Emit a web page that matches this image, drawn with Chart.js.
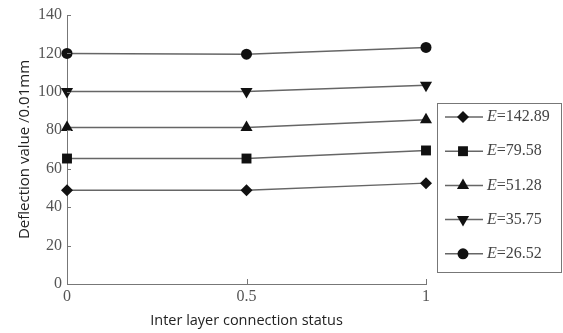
<!DOCTYPE html>
<html>
<head>
<meta charset="utf-8">
<script src="https://cdn.jsdelivr.net/npm/chart.js@4"></script>
<style>
  html, body { margin: 0; padding: 0; background: #fff; }
  #wrap { width: 563px; height: 333px; }
</style>
</head>
<body>
<div id="wrap"><canvas id="chart"></canvas></div>
<script>
const xValues = [0, 0.5, 1];
const seriesLabels = ['142.89', '79.58', '51.28', '35.75', '26.52'];
const e142 = [48.8, 48.8, 52.5];
const e79 = [65.3, 65.3, 69.5];
const e51 = [81.5, 81.5, 85.5];
const e35 = [100.2, 100.2, 103.5];
const e26 = [120, 119.6, 123.1];
const yTicks = [0, 20, 40, 60, 80, 100, 120, 140];
const xTicks = [0, 0.5, 1];

const markers = [
  { style: 'rectRot', radius: 6, rotation: 0 },
  { style: 'rect', radius: 7, rotation: 0 },
  { style: 'triangle', radius: 7, rotation: 0 },
  { style: 'triangle', radius: 7, rotation: 180 },
  { style: 'circle', radius: 5.5, rotation: 0 }
];
const seriesData = [e142, e79, e51, e35, e26];

const datasets = seriesData.map((vals, i) => ({
  label: 'E=' + seriesLabels[i],
  data: vals.map((v, j) => ({ x: xValues[j], y: v })),
  borderColor: '#666',
  borderWidth: 1.5,
  backgroundColor: '#111',
  pointBackgroundColor: '#111',
  pointBorderColor: '#111',
  pointBorderWidth: 0,
  pointStyle: markers[i].style,
  pointRadius: markers[i].radius,
  pointRotation: markers[i].rotation,
  tension: 0,
  clip: false
}));

// inward tick marks, like the printed figure
const innerTicks = {
  id: 'innerTicks',
  afterDraw(chart) {
    const ctx = chart.ctx;
    const xs = chart.scales.x, ys = chart.scales.y;
    const area = chart.chartArea;
    ctx.save();
    ctx.strokeStyle = '#777';
    ctx.lineWidth = 1;
    ctx.beginPath();
    yTicks.forEach(v => {
      if (v === 0) return;
      const y = Math.round(ys.getPixelForValue(v)) + 0.5;
      ctx.moveTo(area.left, y);
      ctx.lineTo(area.left + 4, y);
    });
    xTicks.forEach(v => {
      if (v === 0) return;
      const x = Math.round(xs.getPixelForValue(v)) + 0.5;
      ctx.moveTo(x, area.bottom);
      ctx.lineTo(x, area.bottom - 5);
    });
    ctx.stroke();
    ctx.restore();
  }
};

// boxed legend with line + marker samples
const boxLegend = {
  id: 'boxLegend',
  afterDraw(chart) {
    const ctx = chart.ctx;
    const box = { left: 437, top: 103, right: 561, bottom: 272 };
    ctx.save();
    ctx.strokeStyle = '#777';
    ctx.lineWidth = 1;
    ctx.strokeRect(box.left + 0.5, box.top + 0.5, box.right - box.left, box.bottom - box.top);
    chart.data.datasets.forEach((ds, i) => {
      const y = 117 + i * 34.2;
      ctx.strokeStyle = '#666';
      ctx.lineWidth = 1.5;
      ctx.beginPath();
      ctx.moveTo(445, y);
      ctx.lineTo(483, y);
      ctx.stroke();
      ctx.fillStyle = '#111';
      ctx.strokeStyle = '#111';
      ctx.lineWidth = 0;
      Chart.helpers.drawPoint(ctx, {
        pointStyle: ds.pointStyle,
        radius: ds.pointRadius,
        rotation: ds.pointRotation,
        borderWidth: 0
      }, 463, y);
      ctx.fillStyle = '#444';
      ctx.textBaseline = 'middle';
      ctx.textAlign = 'left';
      ctx.font = 'italic 16px "Liberation Serif"';
      ctx.fillText('E', 487, y);
      const w = ctx.measureText('E').width;
      ctx.font = '16px "Liberation Serif"';
      ctx.fillText('=' + seriesLabels[i], 487 + w, y);
    });
    ctx.restore();
  }
};

new Chart(document.getElementById('chart'), {
  type: 'line',
  data: { datasets },
  options: {
    responsive: true,
    maintainAspectRatio: false,
    animation: false,
    layout: { padding: { left: 0, right: 137, top: 15, bottom: 0 } },
    plugins: {
      legend: { display: false },
      tooltip: { enabled: false }
    },
    scales: {
      x: {
        type: 'linear',
        min: 0,
        max: 1,
        afterBuildTicks: scale => { scale.ticks = xTicks.map(v => ({ value: v })); },
        grid: { display: false, drawTicks: false },
        border: { display: true, color: '#777', width: 1 },
        ticks: {
          color: '#555',
          padding: 3,
          font: { family: 'Liberation Serif', size: 16 },
          maxRotation: 0,
          callback: v => String(v)
        },
        title: {
          display: true,
          text: 'Inter layer connection status',
          color: '#222',
          font: { family: 'Open Sans', size: 14.5 },
          padding: { top: 3, bottom: 3 }
        },
        afterFit: scale => { scale.height = 49; }
      },
      y: {
        min: 0,
        max: 140,
        afterBuildTicks: scale => { scale.ticks = yTicks.map(v => ({ value: v })); },
        grid: { display: false, drawTicks: false },
        border: { display: true, color: '#777', width: 1 },
        ticks: {
          color: '#555',
          padding: 5,
          font: { family: 'Liberation Serif', size: 16 }
        },
        title: {
          display: true,
          text: 'Deflection value /0.01mm',
          color: '#222',
          font: { family: 'Open Sans', size: 15 },
          padding: { top: 16, bottom: 16 }
        },
        afterFit: scale => { scale.width = 67; }
      }
    }
  },
  plugins: [innerTicks, boxLegend]
});
</script>
</body>
</html>
